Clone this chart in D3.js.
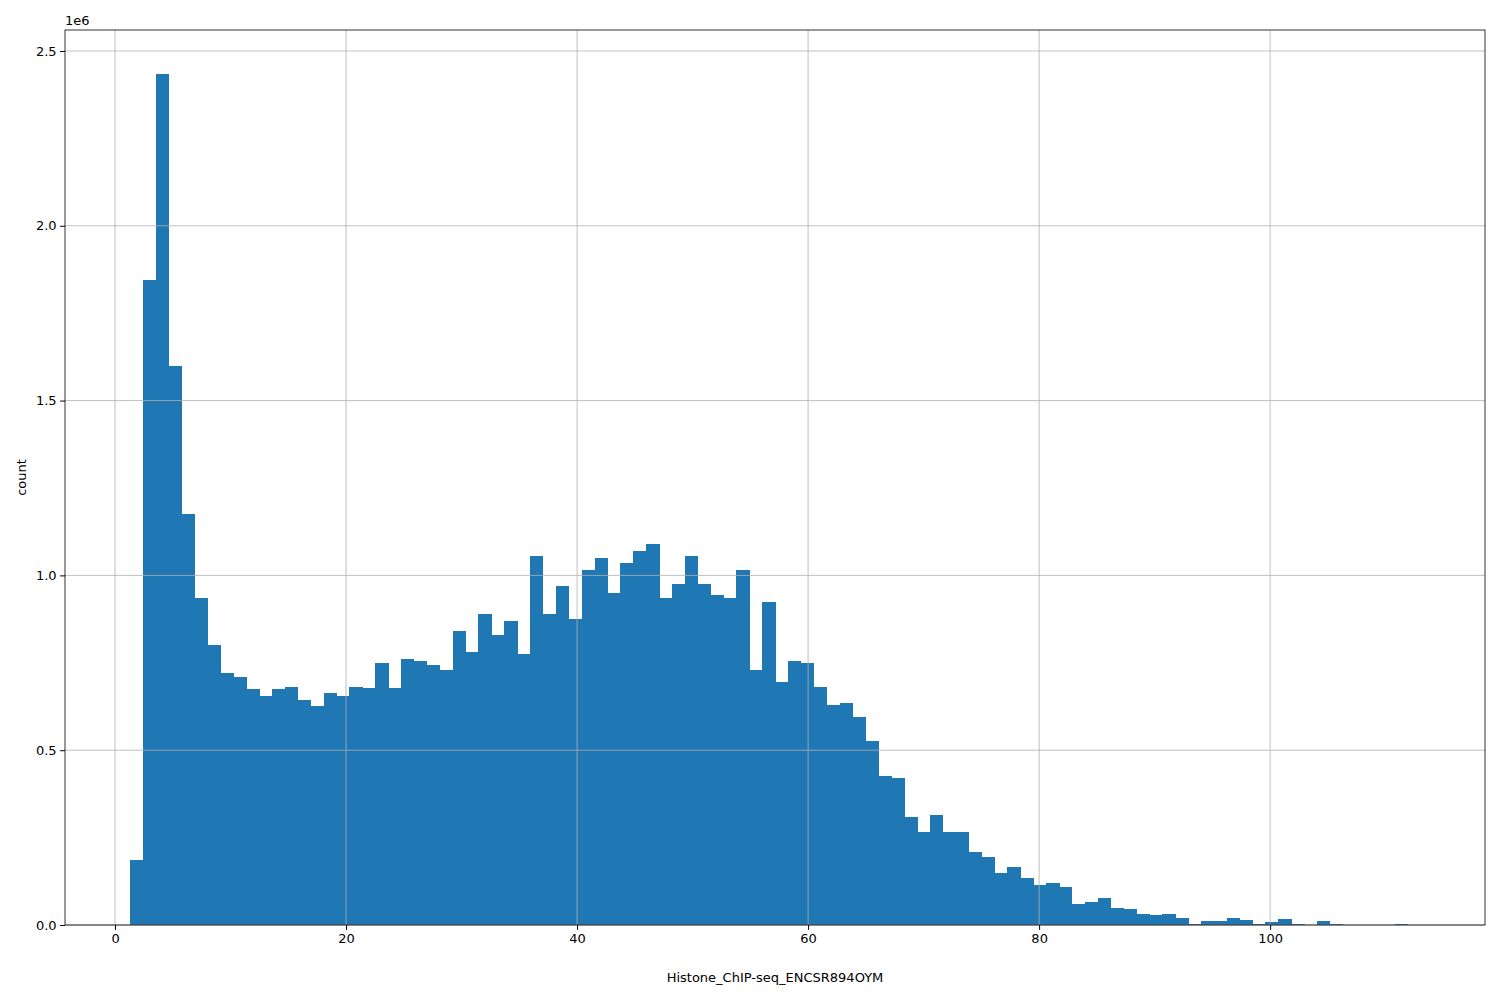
<!DOCTYPE html><html><head><meta charset="utf-8"><script src="https://cdn.jsdelivr.net/npm/d3@7"></script>
<style>body{margin:0;background:#fff}text{font-family:"DejaVu Sans",sans-serif}</style></head><body><svg width="1500" height="1000"></svg>
<script>
const binStart=1.3, binWidth=1.117;
const counts=[0.185,1.845,2.435,1.6,1.175,0.935,0.8,0.72,0.71,0.675,0.655,0.675,0.68,0.645,0.625,0.665,0.655,0.68,0.678,0.75,0.678,0.76,0.755,0.745,0.73,0.84,0.78,0.89,0.83,0.87,0.775,1.055,0.89,0.97,0.875,1.015,1.05,0.95,1.035,1.07,1.09,0.935,0.975,1.055,0.975,0.945,0.935,1.015,0.73,0.925,0.695,0.755,0.75,0.68,0.63,0.635,0.595,0.525,0.425,0.42,0.31,0.265,0.315,0.265,0.265,0.21,0.195,0.15,0.165,0.135,0.115,0.12,0.11,0.06,0.065,0.078,0.05,0.045,0.032,0.028,0.032,0.02,0.004,0.012,0.012,0.02,0.015,0.004,0.008,0.018,0.002,0.001,0.012,0.004,0.001,0.001,0.001,0.001,0.003,0.001];
const xTicks=[0,20,40,60,80,100];
const yTicks=[0,0.5,1.0,1.5,2.0,2.5];
const L=65,R=1485,T=30,B=925;
const svg=d3.select("svg");
const x=d3.scaleLinear().domain([-4.33,118.6]).range([L,R]);
const y=d3.scaleLinear().domain([0,2.56]).range([B,T]);
svg.append("g").attr("shape-rendering","crispEdges").selectAll("rect").data(counts).join("rect")
 .attr("x",(d,i)=>x(binStart+i*binWidth)).attr("width",(d,i)=>x(binStart+(i+1)*binWidth)-x(binStart+i*binWidth)+0.5)
 .attr("y",d=>y(d)).attr("height",d=>B-y(d)).attr("fill","#1f77b4");
const g=svg.append("g");
g.selectAll(".gx").data(xTicks).join("line").attr("x1",d=>x(d)).attr("x2",d=>x(d)).attr("y1",T).attr("y2",B).attr("stroke","#b0b0b0").attr("stroke-width",0.8);
g.selectAll(".gy").data(yTicks).join("line").attr("y1",d=>y(d)).attr("y2",d=>y(d)).attr("x1",L).attr("x2",R).attr("stroke","#b0b0b0").attr("stroke-width",0.8);
svg.append("g").attr("transform",`translate(0,${B})`).call(d3.axisBottom(x).tickValues(xTicks).tickFormat(d3.format("d")).tickSize(4.9).tickPadding(3.5)).call(a=>{a.select(".domain").remove();a.selectAll("text").attr("font-size",13).attr("fill","#000")});
svg.append("g").attr("transform",`translate(${L},0)`).call(d3.axisLeft(y).tickValues(yTicks).tickFormat(d3.format(".1f")).tickSize(4.9).tickPadding(3.5)).call(a=>{a.select(".domain").remove();a.selectAll("text").attr("font-size",13).attr("fill","#000")});
svg.append("rect").attr("x",L).attr("y",T).attr("width",R-L).attr("height",B-T).attr("fill","none").attr("stroke","#000").attr("stroke-width",0.8);
svg.append("text").attr("x",L).attr("y",T-5).attr("font-size",13).text("1e6");
svg.append("text").attr("x",(L+R)/2).attr("y",982).attr("text-anchor","middle").attr("font-size",13).text("Histone_ChIP-seq_ENCSR894OYM");
svg.append("text").attr("transform",`translate(26,${(T+B)/2}) rotate(-90)`).attr("text-anchor","middle").attr("font-size",13).text("count");
</script></body></html>
